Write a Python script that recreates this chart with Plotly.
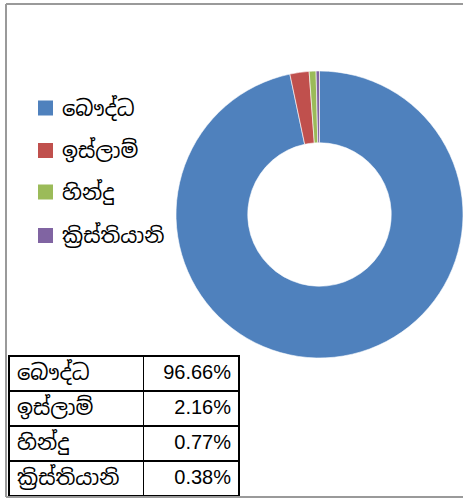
import plotly.graph_objects as go

labels = ["බෞද්ධ", "ඉස්ලාම්", "හින්දු", "ක්‍රිස්තියානි"]
values = [96.66, 2.16, 0.77, 0.38]
pct_text = ["96.66%", "2.16%", "0.77%", "0.38%"]
colors = ["#4F81BD", "#C0504D", "#9BBB59", "#8064A2"]

W, H = 463, 498
SIN_FONT = "Iskoola Pota, Noto Sans Sinhala, Nirmala UI, Liberation Sans, sans-serif"
NUM_FONT = "Liberation Sans"

fig = go.Figure()

# doughnut
fig.add_trace(go.Pie(
    labels=labels, values=values, sort=False, direction="clockwise", rotation=0,
    hole=0.5, textinfo="none", hoverinfo="label+percent",
    marker=dict(colors=colors, line=dict(color="white", width=0.6)),
    domain=dict(x=[176 / W, 1.0], y=[140 / H, 427 / H]),
    showlegend=False,
))

# table
fig.add_trace(go.Table(
    columnwidth=[134, 95],
    domain=dict(x=[9 / W, 239 / W], y=[2 / H, 142 / H]),
    header=dict(
        values=[labels[0], pct_text[0]],
        align=["left", "right"], height=35,
        line=dict(color="black", width=1.5), fill=dict(color="white"),
        font=dict(family=[SIN_FONT, NUM_FONT], size=[21, 20], color="black"),
    ),
    cells=dict(
        values=[labels[1:], pct_text[1:]],
        align=["left", "right"], height=35,
        line=dict(color="black", width=1.5), fill=dict(color="white"),
        font=dict(family=[SIN_FONT, NUM_FONT], size=[21, 20], color="black"),
    ),
))

# manual legend
legend_y = [108, 150.5, 192, 235.5]
shapes = []
annotations = []
for lab, col, yc in zip(labels, colors, legend_y):
    shapes.append(dict(type="rect", xref="paper", yref="paper",
                       x0=38 / W, x1=53 / W, y0=(H - yc - 7.5) / H, y1=(H - yc + 7.5) / H,
                       fillcolor=col, line=dict(width=0)))
    annotations.append(dict(text=lab, xref="paper", yref="paper", x=60 / W, y=(H - yc) / H,
                            xanchor="left", yanchor="middle", showarrow=False,
                            font=dict(family=SIN_FONT, size=21, color="black")))

# outer frame
frame = dict(color="#9a9a9a", width=2)
shapes.append(dict(type="line", xref="paper", yref="paper", x0=6 / W, x1=1.02, y0=(H - 4) / H, y1=(H - 4) / H, line=frame))
shapes.append(dict(type="line", xref="paper", yref="paper", x0=6 / W, x1=6 / W, y0=(H - 4) / H, y1=1 / H, line=frame))
shapes.append(dict(type="line", xref="paper", yref="paper", x0=6 / W, x1=1.02, y0=1 / H, y1=1 / H, line=frame))

fig.update_layout(
    width=W, height=H, margin=dict(l=0, r=0, t=0, b=0),
    paper_bgcolor="white", plot_bgcolor="white",
    shapes=shapes, annotations=annotations,
)

fig.write_html("out.html", config={"displayModeBar": False},
               post_script="document.body.style.margin='0';")
